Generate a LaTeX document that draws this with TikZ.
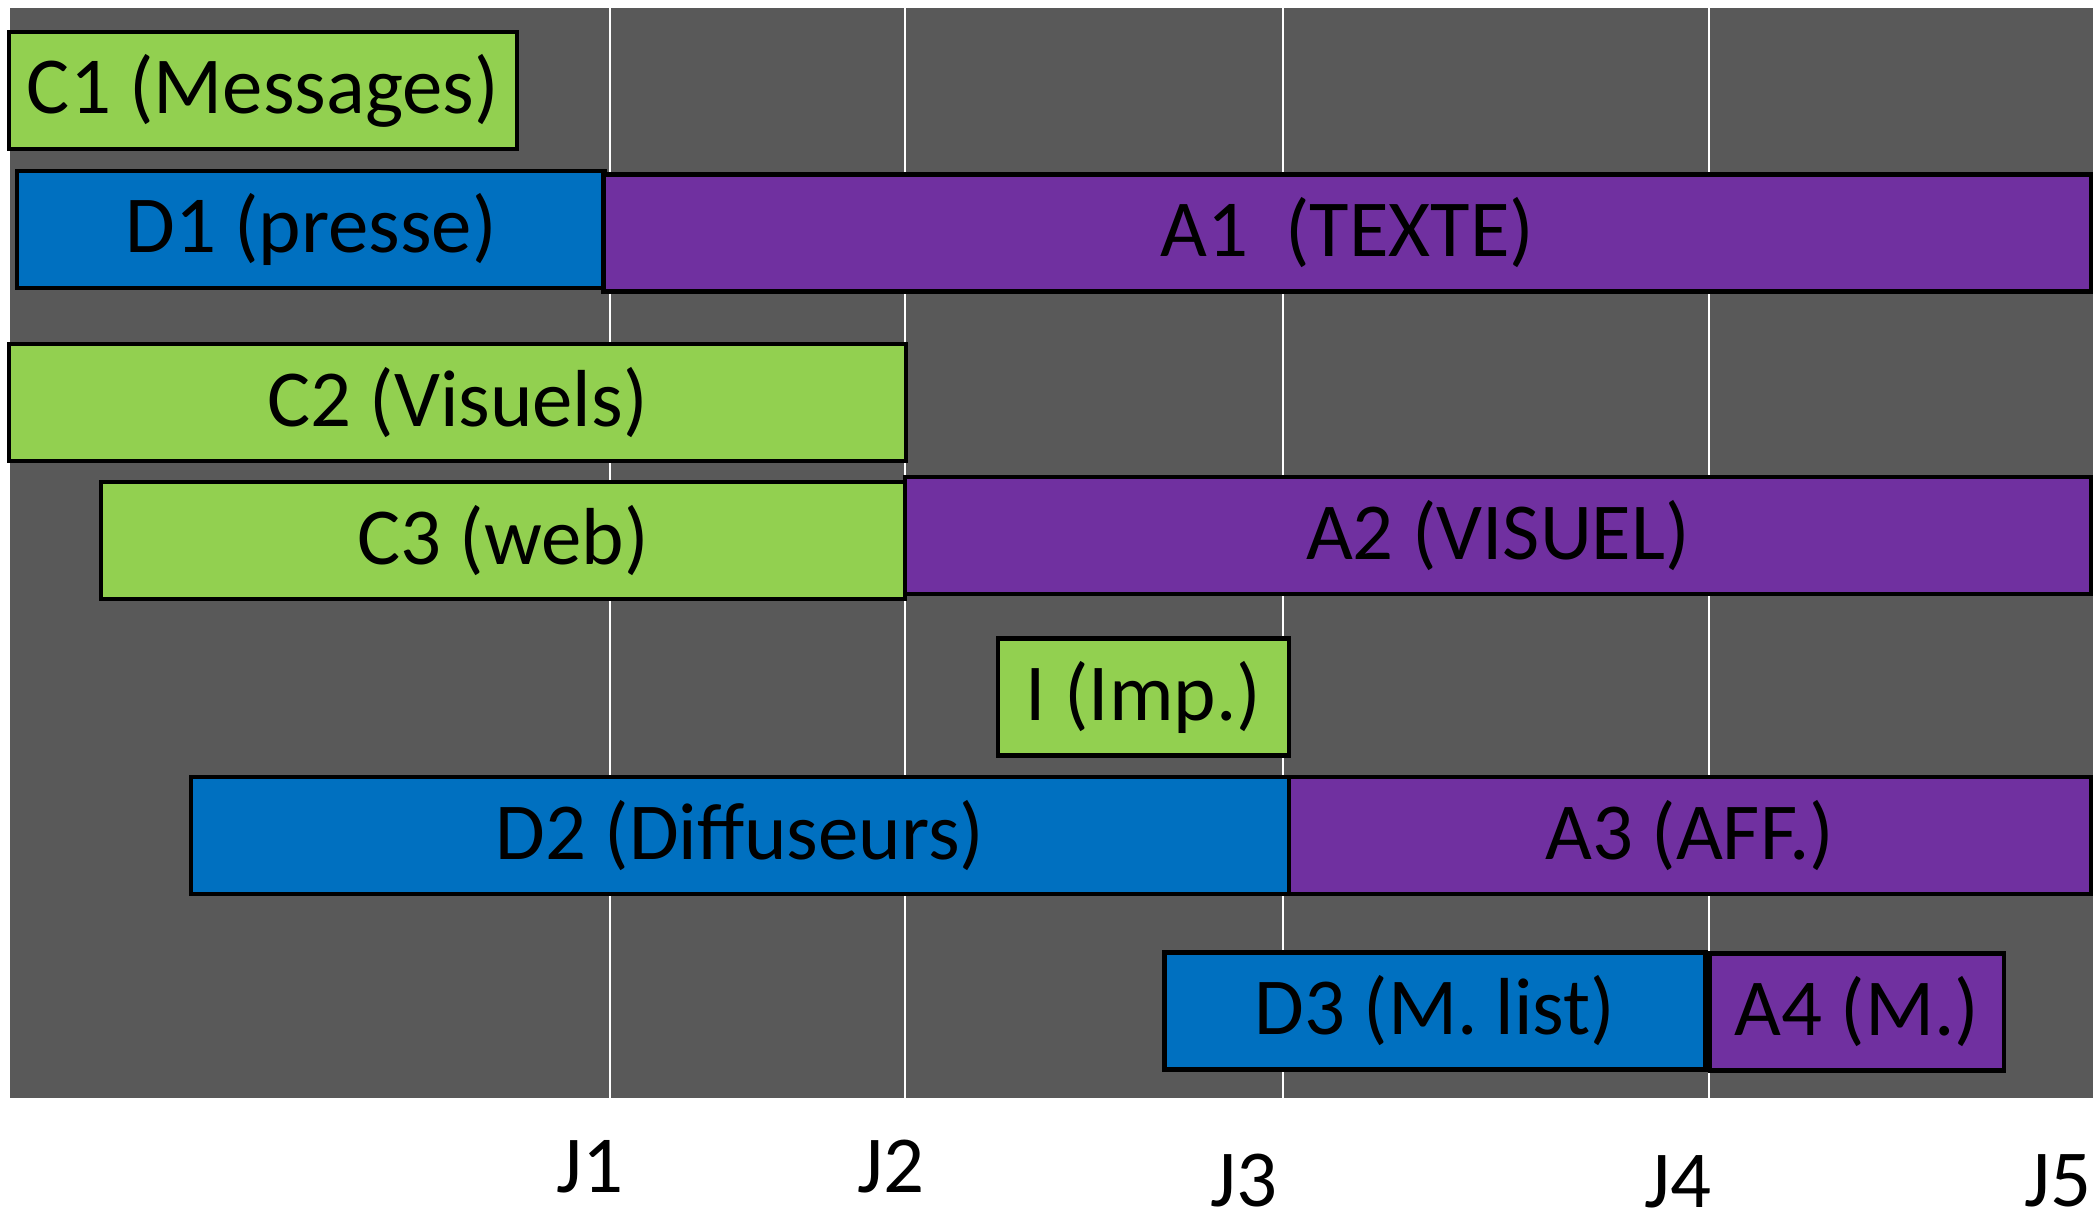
\documentclass[tikz,border=0pt]{standalone}
\usepackage{fontspec}
\setmainfont{Carlito}
\definecolor{bggray}{HTML}{595959}
\definecolor{cgreen}{HTML}{92D050}
\definecolor{dblue}{HTML}{0070C0}
\definecolor{apurple}{HTML}{7030A0}

\begin{document}
\begin{tikzpicture}[x=0.01cm,y=-0.01cm,
    bar/.style={draw=black,line width=1.2pt,inner sep=0pt,minimum height=1.17cm,
      font=\fontsize{23}{28}\selectfont},
    cbar/.style={bar,fill=cgreen},
    dbar/.style={bar,fill=dblue},
    abar/.style={bar,fill=apurple},
    day/.style={font=\fontsize{23}{28}\selectfont,anchor=base}]
  \useasboundingbox (0,0) rectangle (2093,1226);
  % chart area with the day lines
  \fill[bggray] (10,8) rectangle (2093,1098);
  \draw[white,line width=0.6pt] (610,8)--(610,1098);
  \draw[white,line width=0.6pt] (905,8)--(905,1098);
  \draw[white,line width=0.6pt] (1283,8)--(1283,1098);
  \draw[white,line width=0.6pt] (1709,8)--(1709,1098);
  % conception
  \node[cbar,minimum width=5.08cm] (c1) at (263,90.5) {C1 (Messages)};
  \node[cbar,minimum width=8.97cm] (c2) at (457.5,402.5) {C2 (Visuels)};
  \node[cbar,minimum width=8.04cm] (c3) at (503,540.5) {C3 (web)};
  \node[cbar,minimum width=2.91cm] (imp) at (1143.5,697) {I (Imp.)};
  % diffusion
  \node[dbar,minimum width=5.88cm] (d1) at (311,229.5) {D1 (presse)};
  \node[dbar,minimum width=10.975cm] (d2) at (740,835.5) {D2 (Diffuseurs)};
  \node[dbar,minimum width=5.405cm] (d3) at (1435,1011) {D3 (M. list)};
  % actions
  \node[abar,minimum width=14.87cm] (a1) at (1347.5,233) {A1\ \ (TEXTE)};
  \node[abar,minimum width=11.86cm] (a2) at (1498,535.5) {A2 (VISUEL)};
  \node[abar,minimum width=8.02cm] (a3) at (1690,835.5) {A3 (AFF.)};
  \node[abar,minimum width=2.94cm] (a4) at (1857,1012) {A4 (M.)};
  % days
  \node[day] (j1) at (590,1192) {J1};
  \node[day] (j2) at (891,1192) {J2};
  \node[day] (j3) at (1244,1206) {J3};
  \node[day] (j4) at (1678,1207) {J4};
  \node[day] (j5) at (2058,1206) {J5};
\end{tikzpicture}
\end{document}
